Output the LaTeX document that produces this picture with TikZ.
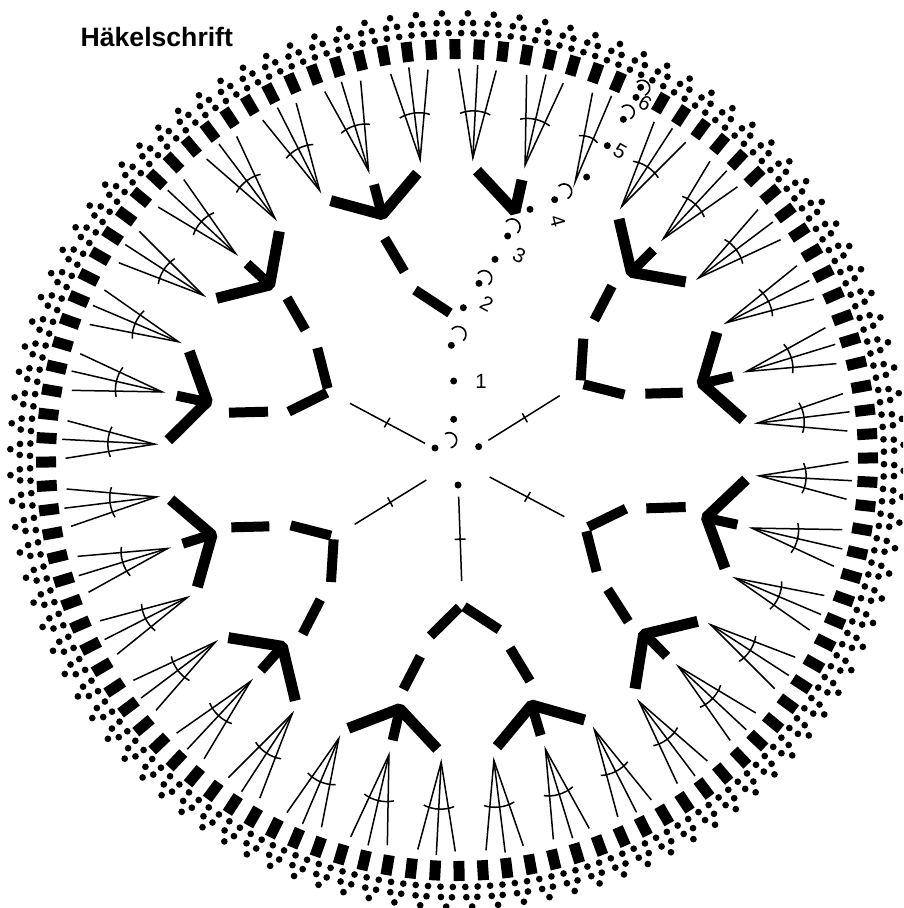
\documentclass[tikz,border=0pt]{standalone}
\usepackage{fontspec}
\setmainfont{Liberation Sans}
\tikzset{
  boldstroke/.style={line width=11pt,line join=bevel,line cap=butt},
  dashstroke/.style={line width=10pt,line cap=butt},
  thinline/.style={line width=1.5pt},
  zoomed/.style={x=0.33333pt,y=-0.33333pt},
  num/.style={font=\fontsize{20.5}{22}\selectfont,inner sep=0pt,anchor=center},
}
\newcommand{\stitchdot}[1]{\fill #1 circle (3.5pt);}
% centre x, centre y, radius, start angle, end angle
\newcommand{\stitcharc}[5]{\draw[line width=1.6pt] plot[domain=#4:#5,samples=24,smooth] ({#1+#3*cos(\x)},{#2+#3*sin(\x)});}
\begin{document}
\begin{tikzpicture}[x=1pt,y=-1pt]
\useasboundingbox (0,0) rectangle (903,908);
\clip (0,0) rectangle (903,908);
\node[anchor=base west,inner sep=0pt,font=\fontsize{26.6}{30}\selectfont\bfseries] (title) at (80.5,46) {Häkelschrift};

\begin{scope}[shift={(457,460)}]
  % outer ring: bars and picot dots
  \foreach \k in {0,...,107}{
    \pgfmathsetmacro\ang{-0.28+\k*10/3-90}
    \pgfmathsetmacro\mid{\ang+1.667}
    \ifnum\k=8\relax\else
      \draw[line width=11pt] (\ang:401) -- (\ang:421);
    \fi
    \fill (\mid:446.8) circle (3.35pt);
    \fill ({\mid-0.72}:437.3) circle (3.35pt);
    \fill ({\mid+0.72}:437.3) circle (3.35pt);
    \fill ({\mid-0.83}:427) circle (3.35pt);
    \fill ({\mid+0.83}:427) circle (3.35pt);
  }
  % fans of three lines with a crossing arc
  \foreach \k in {0,...,35}{
    \pgfmathsetmacro\ang{3+\k*10-90}
    \ifnum\k=2\relax
      \draw[thinline] ({\ang-2.75}:391.5) -- (\ang:302.6) -- (\ang:395.5);
      \draw[thinline] ({\ang-2.4}:346.5) .. controls ({\ang-1.2}:350) and ({\ang}:350) .. ({\ang+0.9}:347);
    \else
      \draw[thinline] ({\ang-2.75}:391.5) -- (\ang:302.6) -- ({\ang+2.75}:391.5);
      \draw[thinline] (\ang:302.6) -- (\ang:395.5);
      \draw[thinline] ({\ang-2.5}:346.7) .. controls ({\ang-1}:350.7) and ({\ang+1}:350.7) .. ({\ang+2.5}:346.7);
    \fi
  }
\end{scope}

% upper left quadrant
\begin{scope}[shift={(160,150)},zoomed]
  \draw[boldstroke] (512,152) -- (667,194) -- (772,70);
  \draw[dashstroke] (642,104) -- (665,190);
  \draw[dashstroke] (674,265) -- (733,365);
  \draw[dashstroke] (765,420) -- (870,489);
  \draw[boldstroke] (358,244) -- (329,405) -- (170,445);
  \draw[dashstroke] (261,341) -- (325,400);
  \draw[dashstroke] (381,444) -- (436,540);
  \draw[dashstroke] (472,594) -- (503,715);
  \draw[dashstroke] (386,785) -- (501,728);
  \draw[boldstroke] (88,604) -- (142,755) -- (25,871);
  \draw[dashstroke] (50,737) -- (135,755);
  \draw[dashstroke] (207,788) -- (324,785);
\end{scope}

% upper right quadrant
\begin{scope}[shift={(460,150)},zoomed]
  \draw[boldstroke] (51,62) -- (165,185) -- (186,90);
  \draw[boldstroke] (477,207) -- (514,367) -- (677,396);
  \draw[dashstroke] (580,300) -- (512,368);
  \draw[dashstroke] (456,408) -- (403,510);
  \draw[dashstroke] (370,566) -- (362,691);
  \draw[dashstroke] (371,703) -- (493,734);
  \draw[dashstroke] (556,731) -- (668,728);
  \draw[boldstroke] (771,547) -- (726,700) -- (850,810);
  \draw[dashstroke] (818,679) -- (730,700);
\end{scope}

% lower left quadrant
\begin{scope}[shift={(160,460)},zoomed]
  \draw[boldstroke] (32,119) -- (156,225) -- (112,381);
  \draw[dashstroke] (68,251) -- (150,225);
  \draw[dashstroke] (214,202) -- (328,199);
  \draw[dashstroke] (392,196) -- (513,227);
  \draw[dashstroke] (521,238) -- (513,366);
  \draw[dashstroke] (481,419) -- (428,522);
  \draw[boldstroke] (205,533) -- (367,559) -- (406,722);
  \draw[dashstroke] (303,631) -- (362,565);
  \draw[boldstroke] (565,805) -- (719,746) -- (832,867);
  \draw[dashstroke] (698,841) -- (719,750);
  \draw[dashstroke] (781,589) -- (730,688);
\end{scope}

% lower arch apex
\begin{scope}[shift={(420,590)},zoomed]
  \draw[dashstroke] (31,138) -- (118,52);
  \draw[dashstroke] (132,50) -- (238,119);
\end{scope}

% lower right quadrant
\begin{scope}[shift={(460,460)},zoomed]
  \draw[boldstroke] (111,860) -- (215,735) -- (374,780);
  \draw[dashstroke] (242,826) -- (215,735);
  \draw[dashstroke] (150,564) -- (210,663);
  \draw[boldstroke] (525,686) -- (551,523) -- (713,484);
  \draw[dashstroke] (620,589) -- (555,523);
  \draw[dashstroke] (443,388) -- (505,485);
  \draw[dashstroke] (379,214) -- (410,335);
  \draw[dashstroke] (385,201) -- (498,146);
  \draw[dashstroke] (559,145) -- (677,141);
  \draw[boldstroke] (858,59) -- (739,172) -- (795,325);
  \draw[dashstroke] (832,194) -- (745,175);
\end{scope}

% centre: ring of spokes and stitches
\begin{scope}[shift={(340,290)},zoomed]
  \draw[thinline] (30,340) -- (255,460);
  \draw[thinline] (133,412) -- (150,383);
  \draw[thinline] (445,451) -- (659,317);
  \draw[thinline] (547,370) -- (562,397);
  \draw[thinline] (44,703) -- (259,570);
  \draw[thinline] (143,622) -- (158,650);
  \draw[thinline] (449,561) -- (673,680);
  \draw[thinline] (554,635) -- (571,606);
  \draw[thinline] (356,620) -- (365,873);
  \draw[thinline] (344,748) -- (377,747);
  \stitchdot{(285,474)}
  \stitchdot{(341,388)}
  \stitchdot{(416,470)}
  \stitchdot{(354,585)}
  \stitchdot{(341,273)}
  \stitchdot{(334,166)}
  \stitchdot{(370,53)}
  \stitcharc{327.4}{450.8}{22.6}{-123}{78}
  \stitcharc{353.8}{133.6}{24}{-140}{49}
\end{scope}

% the running row of stitches
\begin{scope}[shift={(460,150)},zoomed]
  \stitchdot{(210,178)}
  \stitchdot{(143,258)}
  \stitchdot{(105,328)}
  \stitchdot{(57,400)}
  \stitchdot{(284,149)}
  \stitchdot{(380,81)}
  \stitcharc{156}{231}{24}{-140}{48}
  \stitcharc{312}{125}{23}{-135}{63}
  \stitcharc{72}{385}{23}{-143}{54}
\end{scope}
\begin{scope}[shift={(400,0)},zoomed]
  \stitchdot{(622,437)}
  \stitchdot{(670,358)}
  \stitchdot{(708,292)}
  \stitchdot{(722,262)}
  \stitcharc{681}{337}{21.5}{-137}{63}
  \stitcharc{726}{264}{23}{-133}{67}
\end{scope}

% round numbers
\node[num] (n1) at (481,381.5) {1};
\node[num,rotate=-28] (n2) at (486.7,304) {2};
\node[num,rotate=-25] (n3) at (519.3,256) {3};
\node[num,rotate=-75] (n4) at (557.7,221) {4};
\node[num,rotate=-30] (n5) at (620,151.7) {5};
\node[num,rotate=-30] (n6) at (645,103) {6};
\end{tikzpicture}
\end{document}
